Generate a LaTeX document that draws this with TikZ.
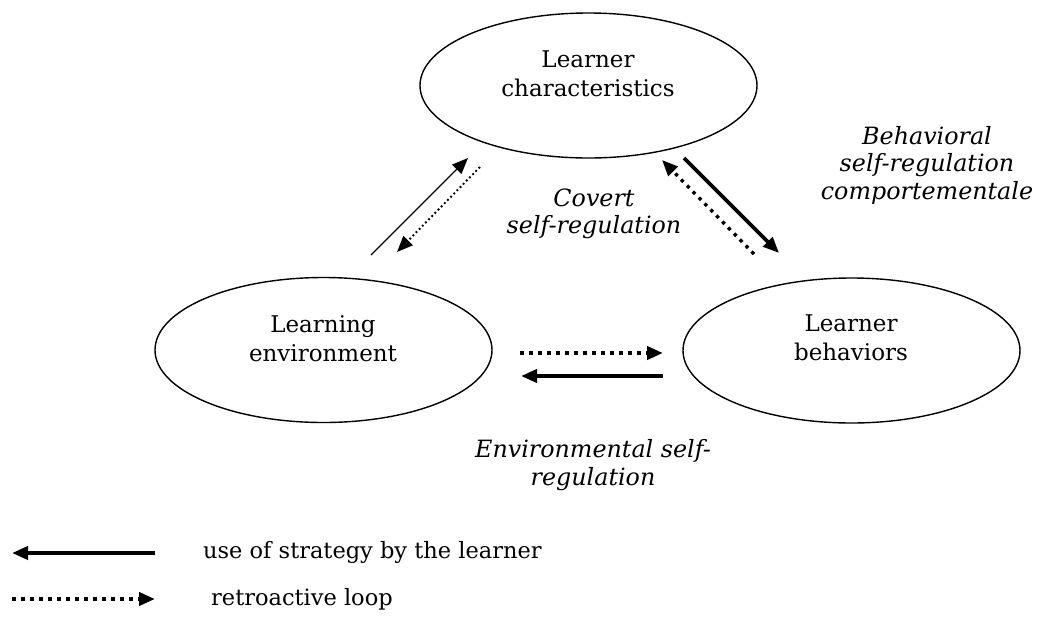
\documentclass[tikz,border=0pt]{standalone}
\usepackage{fontspec}
\setmainfont{DejaVu Serif}
\usetikzlibrary{shapes.geometric,arrows.meta}
\begin{document}
\begin{tikzpicture}[x=1pt,y=-1pt,
  oval/.style={draw, ellipse, line width=1.4pt, minimum width=337pt, minimum height=145pt, inner sep=0pt},
  lbl/.style={align=center, inner sep=0pt, font=\fontsize{23}{29}\selectfont},
  leg/.style={inner sep=0pt, font=\fontsize{22.5}{29}\selectfont},
  ilbl/.style={align=center, inner sep=0pt, font=\fontsize{23.8}{27.5}\selectfont\itshape},
  tip/.style={-{Triangle[length=16pt,width=13pt]}},
  thinsolid/.style={tip, line width=1.4pt},
  thindot/.style={tip, line width=1.9pt, dash pattern=on 1.9pt off 2.6pt},
  thicksolid/.style={tip, line width=3.6pt},
  thickdot/.style={tip, line width=3.4pt, dash pattern=on 3.4pt off 5pt},
  hsolid/.style={tip, line width=4.4pt},
  hdot/.style={tip, line width=4pt, dash pattern=on 4pt off 5pt}
]
\useasboundingbox (0,0) rectangle (1037,622);
\fill[white] (0,0) rectangle (1037,622);

% ellipses
\node[oval] (char) at (588.5,85.5) {};
\node[oval] (env) at (323.5,350) {};
\node[oval] (beh) at (851.5,350.5) {};

\node[lbl] (chart) at (588,74) {Learner\\characteristics};
\node[lbl] (envt) at (323,339) {Learning\\environment};
\node[lbl] (beht) at (851,338) {Learner\\behaviors};

% labels
\node[ilbl] (covert) at (594,214) {Covert\\self-regulation};
\node[ilbl] (behav) at (927,165) {Behavioral\\self-regulation\\comportementale};
\node[ilbl] (envir) at (593,465) {Environmental self-\\regulation};

% arrow end points
\coordinate (a1s) at (371,255);
\coordinate (a1e) at (468,158);
\coordinate (a2s) at (480,167);
\coordinate (a2e) at (397,252);
\coordinate (b1s) at (684,158);
\coordinate (b1e) at (779,253);
\coordinate (b2s) at (754,254);
\coordinate (b2e) at (662,160);
\coordinate (c1s) at (520,353);
\coordinate (c1e) at (663,353);
\coordinate (c2s) at (663,376);
\coordinate (c2e) at (521,376);

\draw[thinsolid] (a1s) -- (a1e);
\draw[thindot] (a2s) -- (a2e);
\draw[thicksolid] (b1s) -- (b1e);
\draw[thickdot] (b2s) -- (b2e);
\draw[hdot] (c1s) -- (c1e);
\draw[hsolid] (c2s) -- (c2e);

% legend
\coordinate (l1s) at (155,553);
\coordinate (l1e) at (12,553);
\coordinate (l2s) at (12,599);
\coordinate (l2e) at (155,599);
\draw[hsolid] (l1s) -- (l1e);
\draw[hdot] (l2s) -- (l2e);
\node[leg, anchor=base west] (leg1) at (203,558) {use of strategy by the learner};
\node[leg, anchor=base west] (leg2) at (211,605) {retroactive loop};
\end{tikzpicture}
\end{document}
